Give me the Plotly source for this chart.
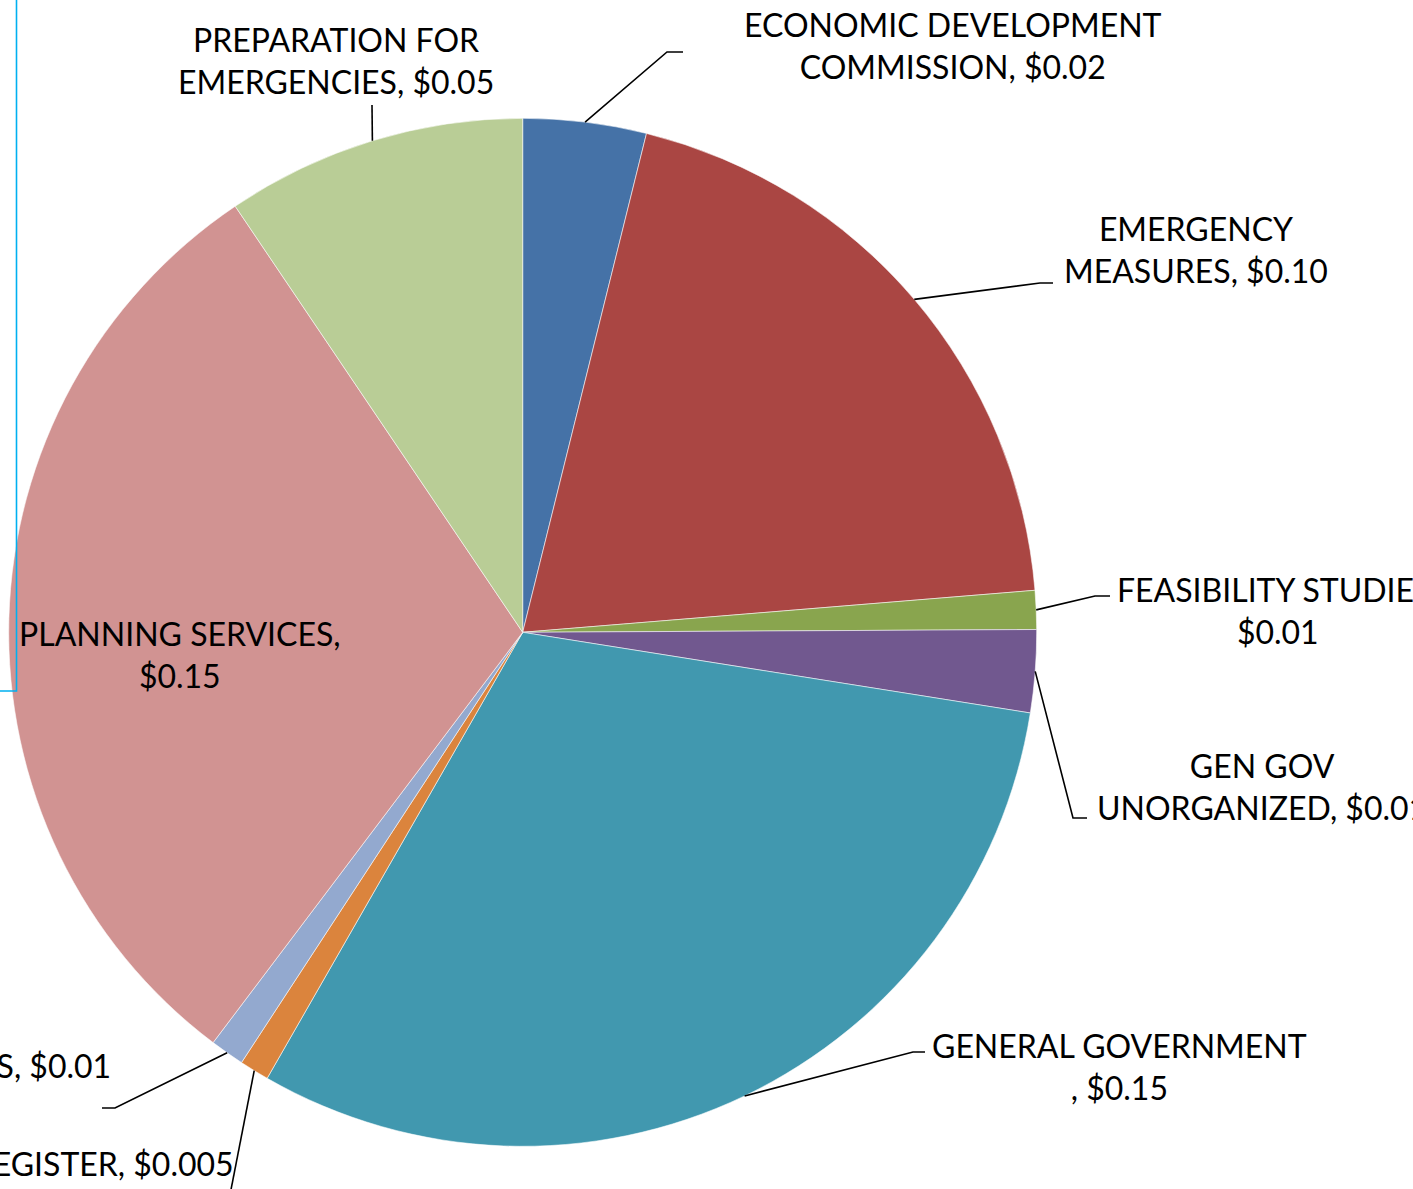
import math
import plotly.graph_objects as go

W, H = 1413, 1189

# Tax requisition by function, clockwise from 12 o'clock
categories = [
    "ECONOMIC DEVELOPMENT COMMISSION",
    "EMERGENCY MEASURES",
    "FEASIBILITY STUDIES",
    "GEN GOV UNORGANIZED",
    "GENERAL GOVERNMENT",
    "HERITAGE REGISTER",
    "PARKS",
    "PLANNING SERVICES",
    "PREPARATION FOR EMERGENCIES",
]
values = [0.0191, 0.0978, 0.0060, 0.0128, 0.1518, 0.0046, 0.0053, 0.1493, 0.0466]
decimals = [2, 2, 2, 2, 2, 3, 2, 2, 2]

# Label text as wrapped in the data labels (value is appended)
label_prefix = [
    "ECONOMIC DEVELOPMENT<br>COMMISSION, ",
    "EMERGENCY<br>MEASURES, ",
    "FEASIBILITY STUDIES,<br>",
    "GEN GOV<br>UNORGANIZED, ",
    "GENERAL GOVERNMENT<br>, ",
    "HERITAGE REGISTER, ",
    "PARKS, ",
    "PLANNING SERVICES,<br>",
    "PREPARATION FOR<br>EMERGENCIES, ",
]

colors = ["#4572A7", "#AA4643", "#89A54E", "#71588F", "#4198AF",
          "#DB843D", "#93A9CF", "#D19392", "#B9CD96"]

# Pie geometry (pixels)
CX, CY, R = 522.7, 632.3, 514.0

# Label placement: (x, y, xanchor, leader elbow or None, leader tail x or None)
label_layout = [
    (953, 45, "center", (667, 52), 683),
    (1196, 249, "center", (1040, 283), 1053),
    (1278, 610, "center", (1095, 596), 1110),
    (1262, 786, "center", (1073, 818), 1087),
    (1119, 1066, "center", (913, 1052), 925),
    (236, 1163, "right", (228, 1205), None),
    (113, 1065, "right", (115, 1108), 102),
    (180, 654, "center", None, None),
    (336, 60, "center", (372, 105), None),
]


def px(x):
    return x / W


def py(y):
    return 1 - y / H


fig = go.Figure(go.Pie(
    labels=categories,
    values=values,
    sort=False,
    direction="clockwise",
    rotation=0,
    marker=dict(colors=colors, line=dict(color="rgba(255,255,255,0.55)", width=1)),
    textinfo="none",
    hoverinfo="label+value",
    showlegend=False,
    domain=dict(x=[px(CX - R), px(CX + R)], y=[py(CY + R), py(CY - R)]),
))

total = sum(values)
annotations = []
shapes = []
cum = 0.0
for name, v, d, (lx, ly, anchor, elbow, tail) in zip(label_prefix, values, decimals, label_layout):
    mid = 2 * math.pi * (cum + v / 2) / total
    cum += v
    text = name + "$" + f"{v:.{d}f}"
    annotations.append(dict(
        x=px(lx), y=py(ly), xref="paper", yref="paper",
        xanchor=anchor, yanchor="middle", align="center",
        text=text, showarrow=False,
        font=dict(family="Lato", size=32, color="#000000"),
    ))
    if elbow is not None:
        sx = CX + R * math.sin(mid)
        sy = CY - R * math.cos(mid)
        path = f"M {px(sx)},{py(sy)} L {px(elbow[0])},{py(elbow[1])}"
        if tail is not None:
            path += f" L {px(tail)},{py(elbow[1])}"
        shapes.append(dict(type="path", xref="paper", yref="paper", path=path,
                           line=dict(color="#000000", width=1.6)))

# Selection frame edge at the left
shapes.append(dict(type="path", xref="paper", yref="paper",
                   path=f"M {px(16.5)},{py(-2)} L {px(16.5)},{py(691)} L {px(-2)},{py(691)}",
                   line=dict(color="#00B0F0", width=1.6)))

fig.update_layout(
    width=W, height=H,
    margin=dict(l=0, r=0, t=0, b=0),
    paper_bgcolor="#FFFFFF",
    plot_bgcolor="#FFFFFF",
    annotations=annotations,
    shapes=shapes,
)

fig.write_html("out.html")
